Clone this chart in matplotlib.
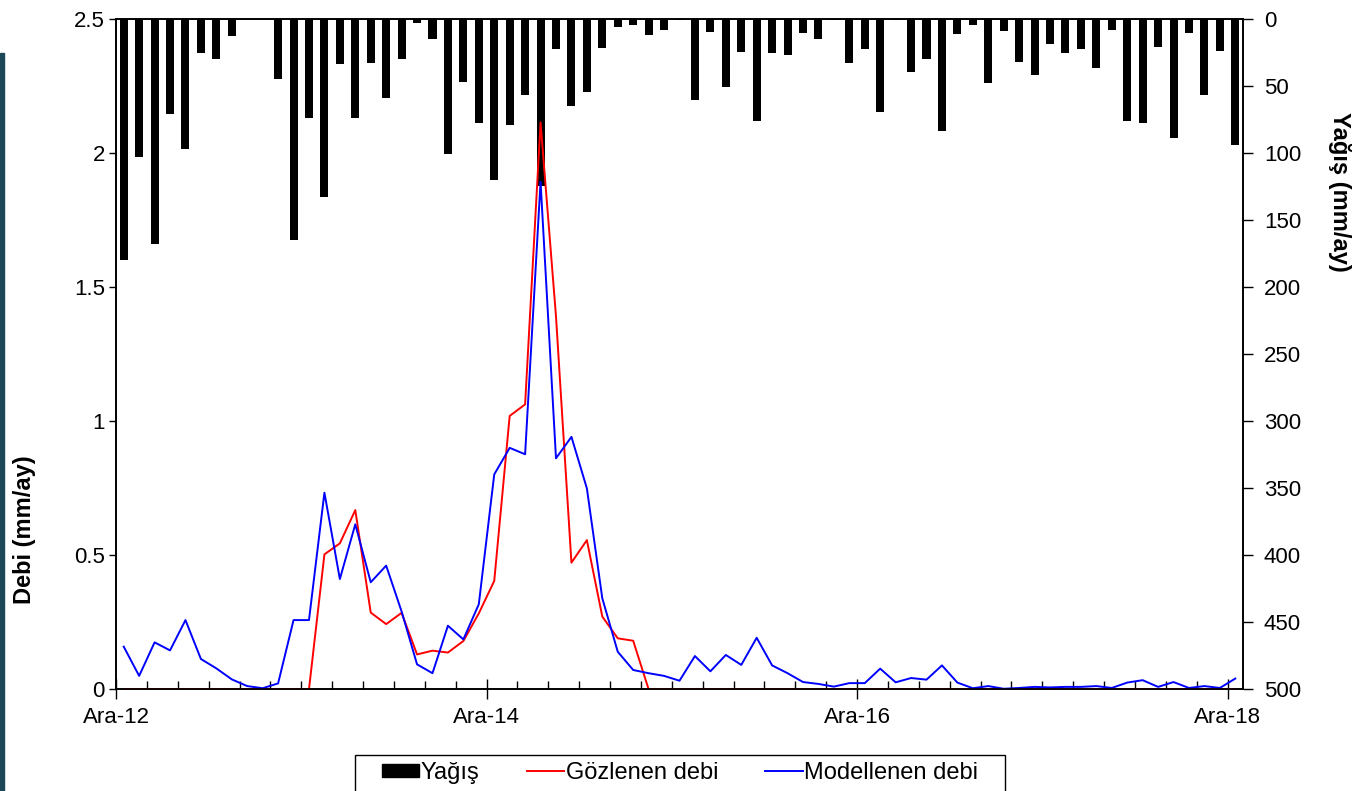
import numpy as np
import matplotlib
matplotlib.use("Agg")
import matplotlib.pyplot as plt
import matplotlib.patches as patches
from matplotlib.ticker import FixedLocator, MultipleLocator

# -----------------------------------------------------------------------------
# Data: monthly values, Dec 2012 .. Dec 2018 (73 months)
# -----------------------------------------------------------------------------

major_labels = ["Ara-12", "Ara-14", "Ara-16", "Ara-18"]
major_months = [0, 24, 48, 72]

yagis = [180, 103, 168, 71, 97, 26, 30, 13, 0, 0, 45, 165, 74, 133, 34, 74,
         33, 59, 30, 3, 15, 101, 47, 78, 120, 79, 57, 125, 23, 65, 55, 22,
         6.5, 5, 12, 8.5, 1.3, 61, 10, 51, 25, 76, 26, 27, 11, 15, 1.3, 33,
         23, 70, 1.3, 40, 30, 84, 11.5, 4.5, 48, 9, 32, 42, 19, 26, 23, 37,
         8.5, 76, 78, 21, 89, 11, 57, 24, 94]

gozlenen = [0] * 13 + [0.503, 0.544, 0.668, 0.286, 0.243, 0.285, 0.130,
                       0.144, 0.137, 0.180, 0.283, 0.404, 1.019, 1.062,
                       2.113, 1.39, 0.472, 0.556, 0.271, 0.190, 0.181] + [0] * 39

modellenen = [0.159, 0.050, 0.175, 0.145, 0.258, 0.113, 0.078, 0.037, 0.012,
              0.004, 0.022, 0.258, 0.258, 0.733, 0.411, 0.615, 0.399, 0.461,
              0.290, 0.093, 0.060, 0.237, 0.186, 0.317, 0.801, 0.900, 0.876,
              1.892, 0.861, 0.941, 0.749, 0.339, 0.140, 0.072, 0.060, 0.050,
              0.032, 0.124, 0.067, 0.128, 0.091, 0.192, 0.089, 0.060, 0.027,
              0.020, 0.010, 0.023, 0.023, 0.077, 0.026, 0.042, 0.036, 0.089,
              0.025, 0.004, 0.012, 0.002, 0.005, 0.009, 0.007, 0.009, 0.009,
              0.012, 0.005, 0.025, 0.034, 0.009, 0.027, 0.005, 0.012, 0.005,
              0.040]

# -----------------------------------------------------------------------------
# Figure
# -----------------------------------------------------------------------------

plt.rcParams["font.family"] = ["Liberation Sans", "DejaVu Sans"]
label_font = dict(family=["Liberation Sans", "DejaVu Sans"],
                  fontweight="bold", fontsize=17)

W, H = 1353, 791
fig = plt.figure(figsize=(W / 100, H / 100), dpi=100)
ax = fig.add_axes([116 / W, 1 - 689.3 / H, (1243 - 116) / W, (689.3 - 18.6) / H])
ax2 = ax.twinx()

x = np.arange(len(yagis)) + 0.5

# rainfall bars hanging from the top (inverted right axis)
ax2.bar(x, yagis, width=0.52, color="black", label="Yağış")
ax2.set_ylim(500, 0)
ax2.set_yticks(np.arange(0, 501, 50))

# discharge lines drawn above the bars
ax.plot(x, gozlenen, color="#ff0000", lw=1.4, label="Gözlenen debi")
ax.plot(x, modellenen, color="#0000ff", lw=1.4, label="Modellenen debi")
ax.set_zorder(ax2.get_zorder() + 1)
ax.patch.set_visible(False)

ax.set_ylim(0, 2.5)
ax.set_yticks([0, 0.5, 1, 1.5, 2, 2.5])
ax.set_yticklabels(["0", "0.5", "1", "1.5", "2", "2.5"])
ax.set_xlim(0, len(yagis))
ax.xaxis.set_major_locator(FixedLocator(major_months))
ax.set_xticklabels(major_labels)
ax.xaxis.set_minor_locator(MultipleLocator(2))

for a in (ax, ax2):
    for s in a.spines.values():
        s.set_color("black")
        s.set_linewidth(1.2)
ax.tick_params(axis="x", which="major", direction="inout", length=14, width=1,
               labelsize=16, pad=6)
ax.tick_params(axis="x", which="minor", direction="in", length=6, width=1)
ax.tick_params(axis="y", direction="out", length=5, width=1, labelsize=16, pad=3)
ax2.tick_params(axis="y", direction="out", length=7, width=1, labelsize=16, pad=8)

fig.text(25 / W, 1 - 530 / H, "Debi (mm/ay)", rotation=90, ha="center",
         va="center", **label_font)
fig.text(1340 / W, 1 - 192 / H, "Yağış (mm/ay)", rotation=270, ha="center",
         va="center", **label_font)

# legend: frame drawn separately so its padding can match the original
fig.patches.append(patches.Rectangle((355 / W, -0.05), (1005 - 355) / W,
                                     1 - 755 / H + 0.05,
                                     transform=fig.transFigure, fill=False,
                                     edgecolor="black", linewidth=1.0))
handles = [patches.Rectangle((0, 0), 1, 1, color="black"),
           ax.lines[0], ax.lines[1]]
fig.legend(handles, ["Yağış", "Gözlenen debi", "Modellenen debi"],
           loc="upper center", bbox_to_anchor=(680 / W, 1 - 757 / H),
           ncol=3, fontsize=17, frameon=False, borderaxespad=0,
           borderpad=0.2, handlelength=1.6, handleheight=0.5,
           handletextpad=0.05, columnspacing=2.0)

# dark strip on the left edge of the screenshot
fig.patches.append(patches.Rectangle((0, 0), 4 / W, 1 - 53 / H,
                                     transform=fig.transFigure,
                                     color="#1b4756", zorder=10))

fig.savefig("out.png", dpi=100)
